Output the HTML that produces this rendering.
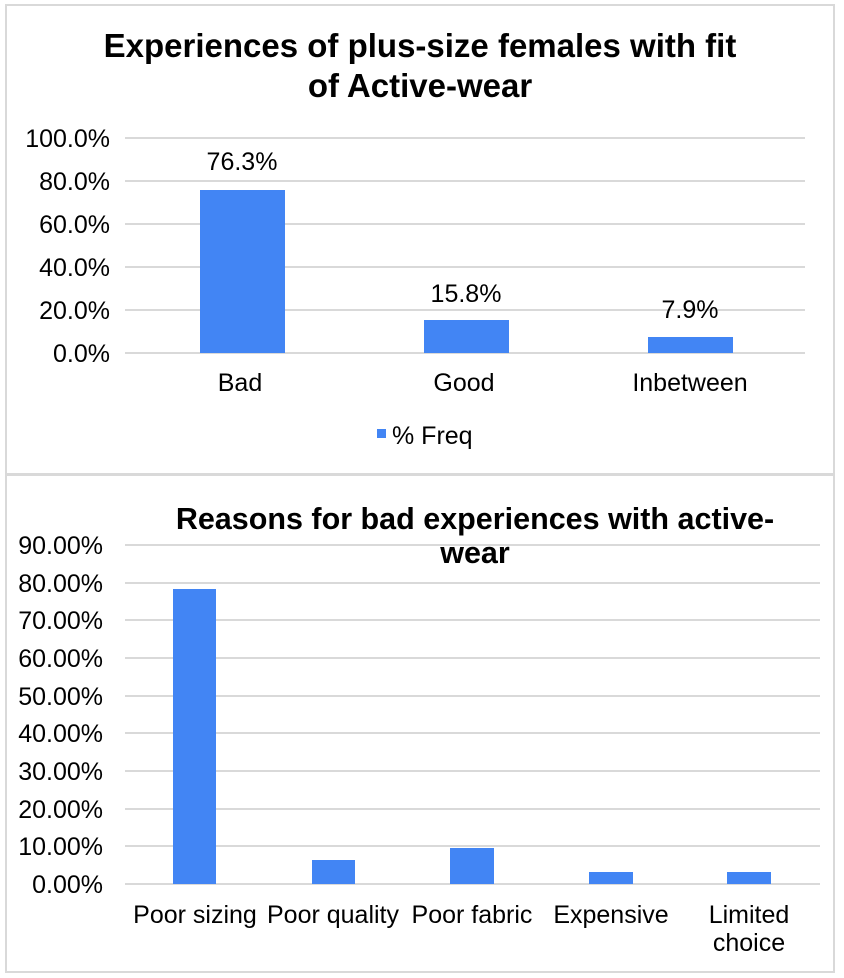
<!DOCTYPE html>
<html><head><style>body{margin:0;background:#fff}svg{display:block}</style></head><body>
<svg width="844" height="978" xmlns="http://www.w3.org/2000/svg" font-family="Liberation Sans, Arial, sans-serif">
<rect x="6" y="5" width="828" height="469" fill="#fff" stroke="#d9d9d9" stroke-width="2"/>
<rect x="6" y="475" width="828" height="497" fill="#fff" stroke="#d9d9d9" stroke-width="2"/>
<g text-anchor="middle" font-weight="bold" font-size="33">
<text x="420" y="57">Experiences of plus-size females with fit</text>
<text x="420" y="97">of Active-wear</text>
</g>
<g stroke="#d9d9d9" stroke-width="2">
<line x1="125" x2="805" y1="138" y2="138"/><line x1="125" x2="805" y1="181" y2="181"/>
<line x1="125" x2="805" y1="224" y2="224"/><line x1="125" x2="805" y1="267" y2="267"/>
<line x1="125" x2="805" y1="310" y2="310"/><line x1="125" x2="805" y1="353" y2="353"/>
</g>
<g font-size="25" text-anchor="end">
<text x="110" y="147">100.0%</text><text x="110" y="190">80.0%</text><text x="110" y="233">60.0%</text>
<text x="110" y="276">40.0%</text><text x="110" y="319">20.0%</text><text x="110" y="362">0.0%</text>
</g>
<g fill="#4285f4">
<rect x="200" y="190" width="85" height="163"/>
<rect x="424" y="320" width="85" height="33"/>
<rect x="648" y="337" width="85" height="16"/>
<rect x="377" y="429" width="9" height="9"/>
</g>
<g font-size="25" text-anchor="middle">
<text x="242" y="170">76.3%</text><text x="466" y="302">15.8%</text><text x="690" y="318">7.9%</text>
<text x="240" y="391">Bad</text><text x="464" y="391">Good</text><text x="690" y="391">Inbetween</text>
</g>
<text x="392" y="444" font-size="25">% Freq</text>
<g stroke="#d9d9d9" stroke-width="2">
<line x1="125" x2="820" y1="545" y2="545"/><line x1="125" x2="820" y1="583" y2="583"/>
<line x1="125" x2="820" y1="620" y2="620"/><line x1="125" x2="820" y1="658" y2="658"/>
<line x1="125" x2="820" y1="696" y2="696"/><line x1="125" x2="820" y1="733" y2="733"/>
<line x1="125" x2="820" y1="771" y2="771"/><line x1="125" x2="820" y1="809" y2="809"/>
<line x1="125" x2="820" y1="846" y2="846"/><line x1="125" x2="820" y1="884" y2="884"/>
</g>
<g text-anchor="middle" font-weight="bold" font-size="30.5">
<text x="475" y="529">Reasons for bad experiences with active-</text>
<text x="475" y="563">wear</text>
</g>
<g font-size="25" text-anchor="end">
<text x="103" y="554">90.00%</text><text x="103" y="592">80.00%</text><text x="103" y="629">70.00%</text>
<text x="103" y="667">60.00%</text><text x="103" y="705">50.00%</text><text x="103" y="742">40.00%</text>
<text x="103" y="780">30.00%</text><text x="103" y="818">20.00%</text><text x="103" y="855">10.00%</text>
<text x="103" y="893">0.00%</text>
</g>
<g fill="#4285f4">
<rect x="173" y="589" width="43" height="295"/>
<rect x="312" y="860" width="43" height="24"/>
<rect x="450" y="848" width="44" height="36"/>
<rect x="589" y="872" width="44" height="12"/>
<rect x="727" y="872" width="44" height="12"/>
</g>
<g font-size="25" text-anchor="middle">
<text x="195" y="923">Poor sizing</text><text x="333" y="923">Poor quality</text>
<text x="472" y="923">Poor fabric</text><text x="611" y="923">Expensive</text>
<text x="749" y="923">Limited</text><text x="749" y="951">choice</text>
</g>
</svg>
</body></html>
